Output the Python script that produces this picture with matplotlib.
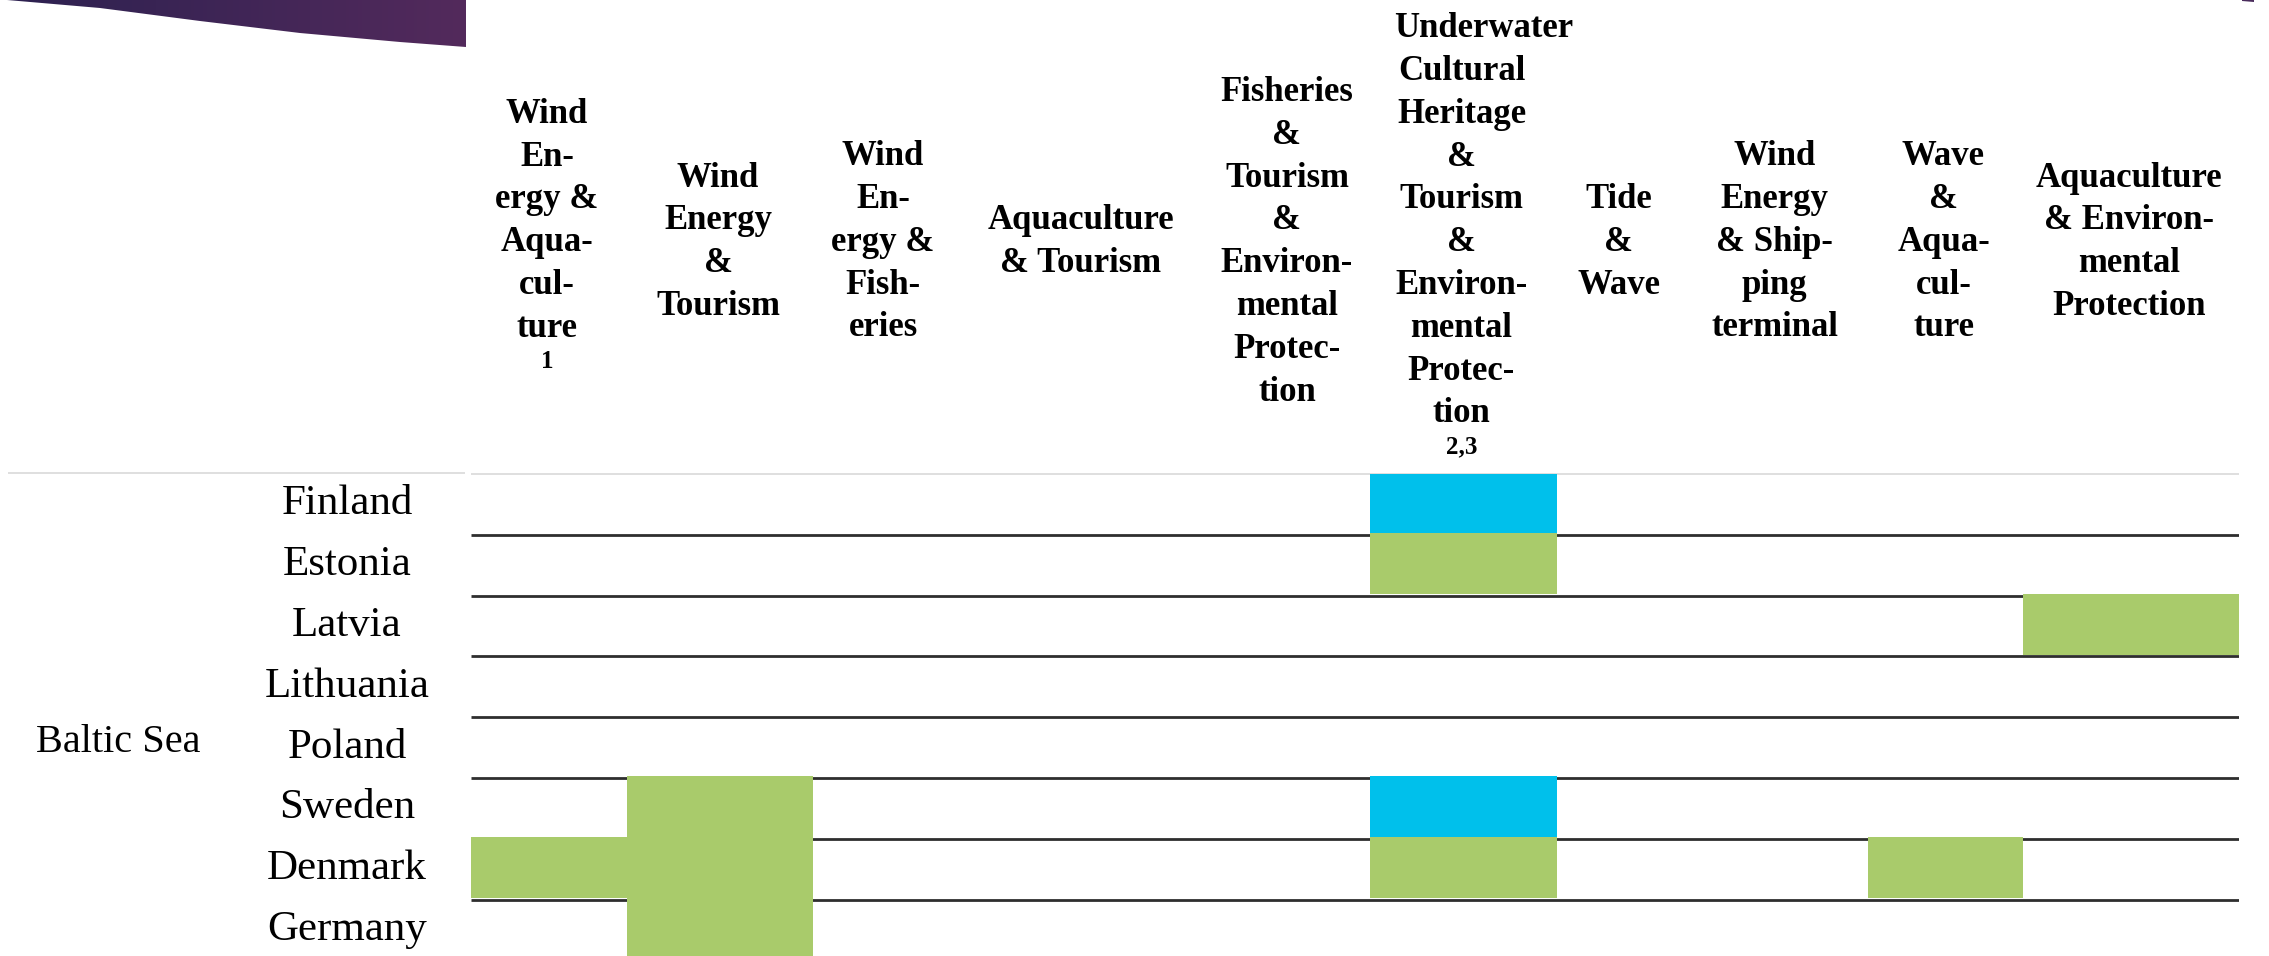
import matplotlib
matplotlib.use("Agg")
import matplotlib.pyplot as plt
import numpy as np
from matplotlib.patches import Polygon
from matplotlib.colors import LinearSegmentedColormap

# ---------------- data ----------------
categories = [
    "Wind\nEn-\nergy &\nAqua-\ncul-\nture",
    "Wind\nEnergy\n&\nTourism",
    "Wind\nEn-\nergy &\nFish-\neries",
    "Aquaculture\n& Tourism",
    "Fisheries\n&\nTourism\n&\nEnviron-\nmental\nProtec-\ntion",
    "Underwater\nCultural\nHeritage\n&\nTourism\n&\nEnviron-\nmental\nProtec-\ntion",
    "Tide\n&\nWave",
    "Wind\nEnergy\n& Ship-\nping\nterminal",
    "Wave\n&\nAqua-\ncul-\nture",
    "Aquaculture\n& Environ-\nmental\nProtection",
]
footnotes = ["1", "", "", "", "", "2,3", "", "", "", ""]
region = "Baltic Sea"
countries = ["Finland", "Estonia", "Latvia", "Lithuania", "Poland",
             "Sweden", "Denmark", "Germany"]
# 0 = no combination, 1 = green, 2 = blue
cells = [
    [0, 0, 0, 0, 0, 2, 0, 0, 0, 0],  # Finland
    [0, 0, 0, 0, 0, 1, 0, 0, 0, 0],  # Estonia
    [0, 0, 0, 0, 0, 0, 0, 0, 0, 1],  # Latvia
    [0, 0, 0, 0, 0, 0, 0, 0, 0, 0],  # Lithuania
    [0, 0, 0, 0, 0, 0, 0, 0, 0, 0],  # Poland
    [0, 1, 0, 0, 0, 2, 0, 0, 0, 0],  # Sweden
    [1, 1, 0, 0, 0, 1, 0, 0, 1, 0],  # Denmark
    [0, 1, 0, 0, 0, 0, 0, 0, 0, 0],  # Germany
]

# ---------------- layout / style ----------------
W, H, DPI = 2269, 956, 100
col_widths = [156, 186, 144, 251, 162, 187, 128, 183, 155, 216]
table_left, table_top, row_h = 471, 474, 60.8
cell_colors = {1: "#a9cb6b", 2: "#00c0eb"}
SERIF = "Liberation Serif"

fig = plt.figure(figsize=(W / DPI, H / DPI), dpi=DPI)
fig.patch.set_facecolor("white")

bg = fig.add_axes([0, 0, 1, 1])
bg.axis("off")

# decorative gradient wedge (top-left)
wedge = Polygon([(0, 0), (466, 0), (466, 47), (400, 42), (300, 33),
                 (200, 21), (100, 8), (7, 0)], closed=True,
                facecolor="none", edgecolor="none", transform=bg.transData)
bg.add_patch(wedge)
cmap = LinearSegmentedColormap.from_list("purp", ["#2c2150", "#532a5c"])
grad = np.linspace(0, 1, 256)[None, :]
im = bg.imshow(grad, extent=[0, 466, 47, 0], cmap=cmap, aspect="auto",
               interpolation="bilinear", zorder=1)
im.set_clip_path(wedge)
bg.add_patch(Polygon([(2242, 0), (2254, 0), (2254, 2), (2242, 1)],
                     closed=True, facecolor="#4a2c5c", edgecolor="none"))

bg.set_xlim(0, W)
bg.set_ylim(H, 0)

# header separator (light)
bg.hlines(table_top - 1, 8, 465, color="#d9d9d9", linewidth=1.2, zorder=2)
bg.hlines(table_top, table_left, table_left + sum(col_widths),
          color="#d9d9d9", linewidth=1.2, zorder=2)

# ---------------- grid axes ----------------
n_rows = len(countries)
total_w = sum(col_widths)
x_edges = np.concatenate([[0], np.cumsum(col_widths)])
gax = fig.add_axes([table_left / W,
                    (H - (table_top + n_rows * row_h)) / H,
                    total_w / W,
                    n_rows * row_h / H])
gax.set_xlim(0, total_w)
gax.set_ylim(n_rows, 0)
gax.axis("off")
gax.patch.set_alpha(0)

gax.hlines(np.arange(1, n_rows), 0, total_w, color="#2e2e2e",
           linewidth=2.0, zorder=2)
for i, row in enumerate(cells):
    for j, v in enumerate(row):
        if v:
            gax.bar(x_edges[j], 1.0, width=col_widths[j], bottom=i - 0.025,
                    align="edge", color=cell_colors[v], linewidth=0,
                    zorder=3)

# ---------------- header texts ----------------
P = 42.8        # baseline pitch (px)
CAP = 23.5      # cap height (px)
header_texts = []
for j, cat in enumerate(categories):
    lines = cat.split("\n")
    n = len(lines)
    cx = table_left + x_edges[j] + col_widths[j] / 2 - 2
    C = 218 if footnotes[j] else 239
    first = C - (n - 1) * P / 2 + CAP / 2
    for k, line in enumerate(lines):
        t = bg.text(cx, first + k * P, line, ha="center", va="baseline",
                    fontsize=25, fontweight="bold", family=SERIF, zorder=5)
        header_texts.append((j, t))
    if footnotes[j]:
        bg.text(cx, first + (n - 1) * P + 31, footnotes[j], ha="center",
                va="baseline", fontsize=18, fontweight="bold", family=SERIF,
                zorder=5)

# lines wider than their column start at the column's left padding
fig.canvas.draw()
rend = fig.canvas.get_renderer()
for j, t in header_texts:
    wpx = t.get_window_extent(rend).width
    if wpx > col_widths[j] - 16:
        t.set_ha("left")
        t.set_x(table_left + x_edges[j] + 24)

# ---------------- row labels ----------------
for i, name in enumerate(countries):
    bg.text(347, table_top + i * row_h + 40.5, name, ha="center",
            va="baseline", fontsize=31, family=SERIF, zorder=5)
bg.text(118, 752, region, ha="center", va="baseline", fontsize=29,
        family=SERIF, zorder=5)

fig.savefig("out.png", dpi=DPI, facecolor="white")
